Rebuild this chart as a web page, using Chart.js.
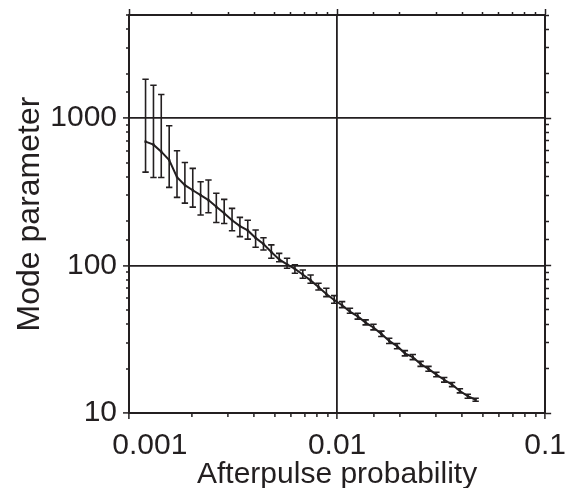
<!DOCTYPE html>
<html>
<head>
<meta charset="utf-8">
<script src="https://cdn.jsdelivr.net/npm/chart.js@4.4.0/dist/chart.umd.min.js"></script>
<style>
  html, body { margin:0; padding:0; background:#fff; }
</style>
</head>
<body>
<canvas id="modeChart" width="575" height="488"></canvas>
<script>
// afterpulse probability (x) and fitted mode parameter (y)
const probability = [
  0.001201, 0.001311, 0.001429, 0.001560, 0.001701, 0.001856, 0.002025, 0.002209,
  0.002409, 0.002628, 0.002867, 0.003128, 0.003412, 0.003722, 0.004060, 0.004429,
  0.004831, 0.005270, 0.005749, 0.006271, 0.006841, 0.007462, 0.008140, 0.008880,
  0.009685, 0.01057, 0.01153, 0.01257, 0.01372, 0.01496, 0.01632, 0.01780,
  0.01942, 0.02118, 0.02311, 0.02521, 0.02750, 0.03000, 0.03272, 0.03569,
  0.03893, 0.04247, 0.04633
];
const modeParam = [
  692, 660, 592, 519, 398, 351, 324, 300,
  278, 250, 226, 203, 185, 173, 154, 140,
  123.5, 110, 102, 95, 87, 79.3, 71.5, 64.2,
  58.4, 53.8, 48.7, 45.2, 41.0, 38.0, 34.4, 30.8,
  28.4, 25.4, 23.9, 21.5, 19.9, 18.2, 16.8, 15.6,
  14.1, 13.0, 12.3
];
const errLow = [
  430, 395, 395, 339, 290, 265, 249, 220,
  228, 196, 193, 172, 157, 151, 133, 127.5,
  112, 106, 95.8, 88.6, 82, 75.8, 68.3, 61.5,
  55.5, 51.8, 47.5, 43.3, 39.6, 36.6, 33.0, 29.6,
  27.3, 24.4, 23.0, 20.7, 19.2, 17.6, 16.2, 15.1,
  13.7, 12.6, 12.0
];
const errHigh = [
  1834, 1670, 1445, 888, 601, 500, 456, 370,
  380, 309, 281, 244, 212, 203, 174, 154.5,
  138, 121, 112, 101, 93.3, 86.3, 75.8, 70.2,
  62.5, 56.9, 51.3, 47.5, 42.8, 40.0, 35.9, 32.1,
  29.6, 26.5, 24.9, 22.4, 20.7, 18.9, 17.4, 16.1,
  14.6, 13.4, 12.6
];

const xMajor = [0.001, 0.01, 0.1];
const xTickLabels = ["     0.001", "0.01", "0.1"];
const yMajor = [10, 100, 1000];
const yTickLabels = ["10", "100", "1000"];

const ink = "#231f20";
const fontFamily = "'Liberation Sans', Arial, sans-serif";

function majorIndex(list, v) {
  return list.findIndex(m => Math.abs(m - v) / m < 1e-6);
}
function isDecade(v) {
  const l = Math.log10(v);
  return Math.abs(l - Math.round(l)) < 1e-6;
}

// minor ticks shorter than major ones: dash from the axis side
const dashNearAxis = c => isDecade(c.tick.value) ? [] : [3, 20];
const dashFarStart = c => isDecade(c.tick.value) ? [] : [0, 3, 3, 20];
// empty minor labels get a tiny font so they don't pad the chart area
const tickFont = c => ({ family: fontFamily, size: isDecade(c.tick.value) ? 30 : 1 });

const errorBars = {
  id: "errorBars",
  afterDatasetsDraw(chart) {
    const {ctx, chartArea, scales: {x, y}} = chart;
    ctx.save();
    ctx.beginPath();
    ctx.rect(chartArea.left, chartArea.top, chartArea.right - chartArea.left, chartArea.bottom - chartArea.top);
    ctx.clip();
    ctx.strokeStyle = ink;
    ctx.lineWidth = 1.6;
    probability.forEach((p, i) => {
      const px = x.getPixelForValue(p);
      const lo = y.getPixelForValue(errLow[i]);
      const hi = y.getPixelForValue(errHigh[i]);
      ctx.beginPath();
      ctx.moveTo(px, lo); ctx.lineTo(px, hi);
      ctx.moveTo(px - 3.2, lo); ctx.lineTo(px + 3.2, lo);
      ctx.moveTo(px - 3.2, hi); ctx.lineTo(px + 3.2, hi);
      ctx.stroke();
    });
    ctx.restore();
  }
};

const ctx = document.getElementById("modeChart").getContext("2d");
new Chart(ctx, {
  type: "line",
  data: {
    datasets: [{
      data: probability.map((p, i) => ({ x: p, y: modeParam[i] })),
      borderColor: ink,
      borderWidth: 2,
      pointStyle: "rect",
      pointRadius: 1.6,
      pointBackgroundColor: ink,
      pointBorderWidth: 0,
      tension: 0,
      fill: false
    }]
  },
  options: {
    responsive: false,
    animation: false,
    layout: { padding: 0 },
    plugins: { legend: { display: false }, tooltip: { enabled: false } },
    scales: {
      x: {
        type: "logarithmic",
        position: "bottom",
        min: 0.001, max: 0.1,
        afterFit: s => { s.height = 75; },
        border: { color: ink, width: 2 },
        grid: {
          color: c => isDecade(c.tick.value) ? ink : "rgba(0,0,0,0)",
          lineWidth: 1.8,
          tickColor: ink,
          tickLength: 6,
          tickWidth: 1.5,
          tickBorderDash: dashNearAxis
        },
        ticks: {
          autoSkip: false, maxRotation: 0, padding: 9,
          color: ink,
          font: tickFont,
          callback: v => { const k = majorIndex(xMajor, v); return k >= 0 ? xTickLabels[k] : ""; }
        },
        title: {
          display: true, text: "Afterpulse probability",
          color: ink,
          font: { family: fontFamily, size: 30, lineHeight: 1 },
          padding: { top: 0, bottom: -2 }
        }
      },
      x2: {
        type: "logarithmic",
        position: "top",
        min: 0.001, max: 0.1,
        afterFit: s => { s.height = 15; },
        border: { color: ink, width: 2 },
        grid: {
          drawOnChartArea: false,
          tickColor: ink,
          tickLength: 6,
          tickWidth: 1.5,
          tickBorderDash: dashFarStart
        },
        ticks: { display: false, autoSkip: false }
      },
      y: {
        type: "logarithmic",
        position: "left",
        min: 10, max: 5000,
        afterFit: s => { s.width = 129; },
        border: { color: ink, width: 2 },
        grid: {
          color: c => isDecade(c.tick.value) ? ink : "rgba(0,0,0,0)",
          lineWidth: 1.8,
          tickColor: ink,
          tickLength: 6,
          tickWidth: 1.5,
          tickBorderDash: dashFarStart
        },
        ticks: {
          autoSkip: false, padding: 6,
          color: ink,
          font: tickFont,
          callback: v => { const k = majorIndex(yMajor, v); return k >= 0 ? yTickLabels[k] : ""; }
        },
        title: {
          display: true, text: "Mode parameter",
          color: ink,
          font: { family: fontFamily, size: 32, lineHeight: 1 },
          padding: { top: 14, bottom: 0 }
        }
      },
      y2: {
        type: "logarithmic",
        position: "right",
        min: 10, max: 5000,
        afterFit: s => { s.width = 27; },
        border: { color: ink, width: 2 },
        grid: {
          drawOnChartArea: false,
          tickColor: ink,
          tickLength: 6,
          tickWidth: 1.5,
          tickBorderDash: dashNearAxis
        },
        ticks: { display: false, autoSkip: false }
      }
    }
  },
  plugins: [errorBars]
});
</script>
</body>
</html>
